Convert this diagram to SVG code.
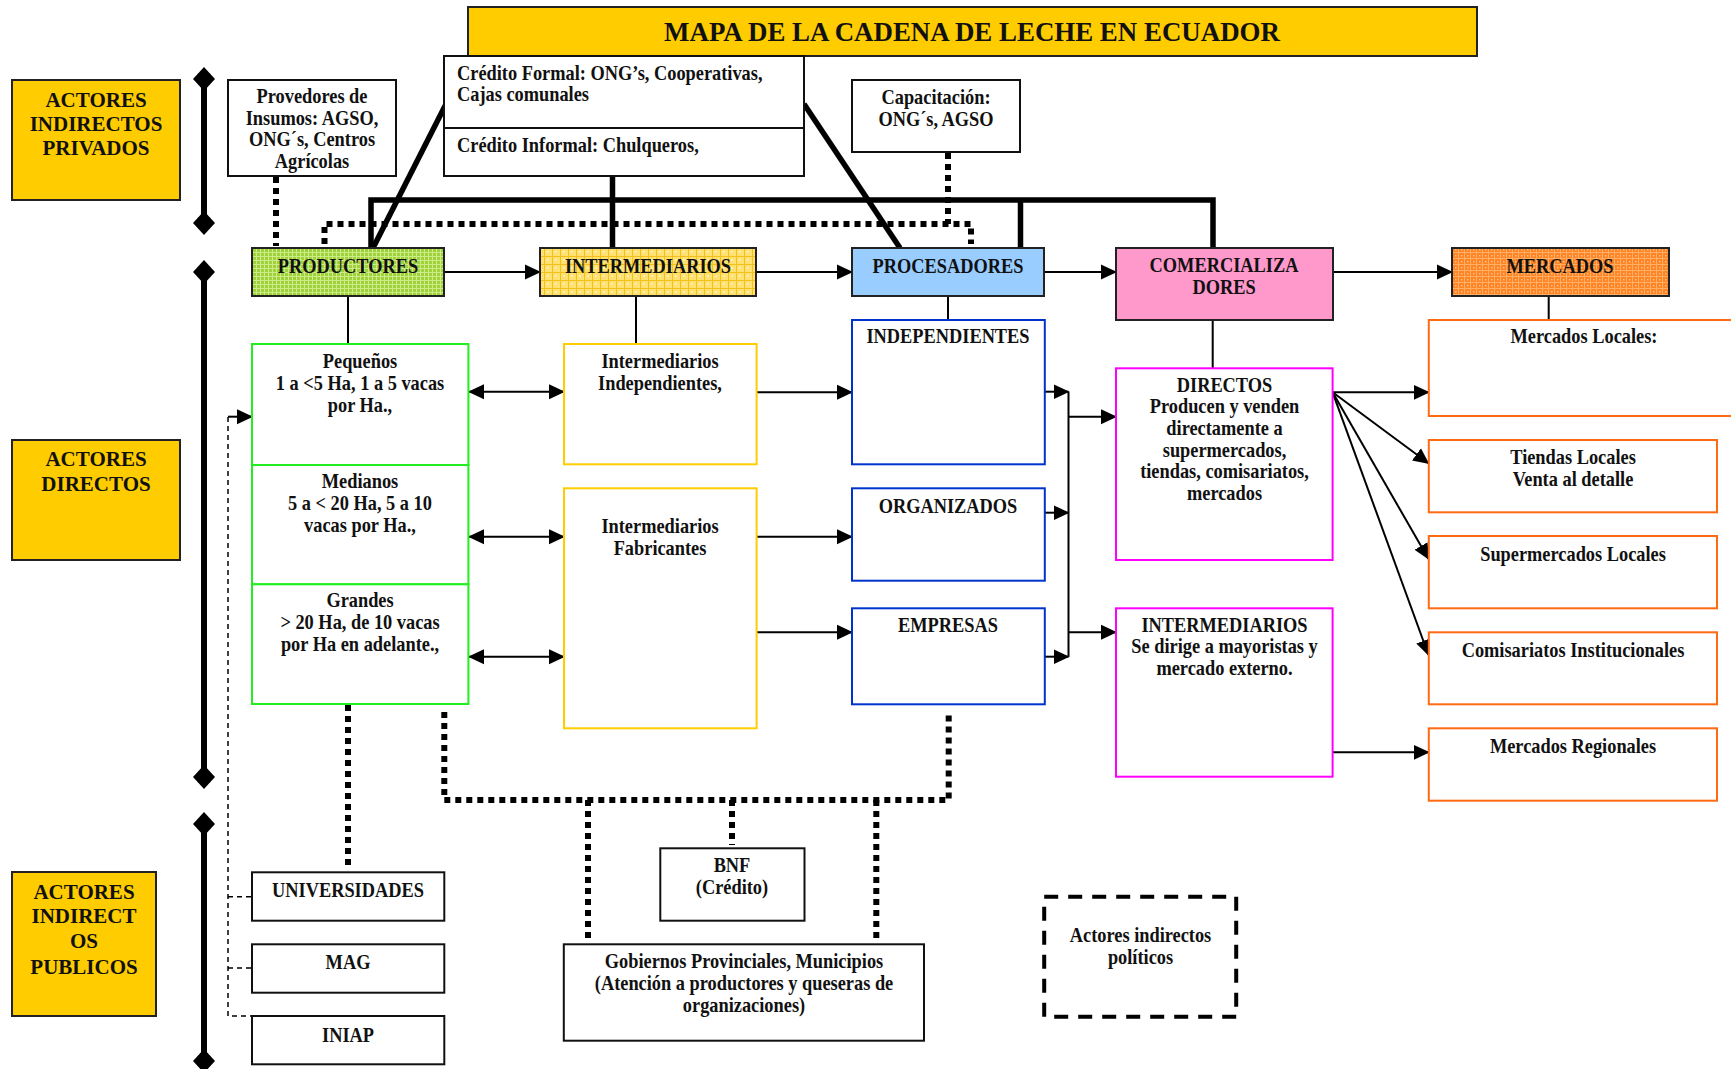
<svg xmlns="http://www.w3.org/2000/svg" width="1731" height="1069" viewBox="0 0 1731 1069">
<defs>
<style>
text{font-family:"Liberation Serif","Times New Roman",serif;font-weight:bold;font-size:20.4px;fill:#111;transform-box:fill-box;transform-origin:center;transform:scaleX(0.9);}
.c{text-anchor:middle;}
.l{transform-origin:left center;}
.big{font-size:22px;transform:scaleX(0.955);}
.title{font-size:26.9px;transform:none;}
.box{fill:#fff;stroke:#111;stroke-width:2;}
.act{fill:#ffcc00;stroke:#222;stroke-width:2;}
.green{fill:#fff;stroke:#22ee22;stroke-width:2;}
.yel{fill:#fff;stroke:#ffcc00;stroke-width:2;}
.blue{fill:#fff;stroke:#0033cc;stroke-width:2;}
.mag{fill:#fff;stroke:#ff00ff;stroke-width:2;}
.ora{fill:#fff;stroke:#ff6a13;stroke-width:2;}
.thick{fill:none;stroke:#000;stroke-width:5.5;}
.dot{fill:none;stroke:#000;stroke-width:6;stroke-dasharray:6 5;}
.thin{fill:none;stroke:#000;stroke-width:2;}
.arr{fill:none;stroke:#000;stroke-width:2;marker-end:url(#ah);}
.darr{fill:none;stroke:#000;stroke-width:2;marker-end:url(#ah);marker-start:url(#ah);}
.dash{fill:none;stroke:#000;stroke-width:1.5;stroke-dasharray:5 4;}
.bar{fill:none;stroke:#000;stroke-width:6;}
</style>
<marker id="ah" markerUnits="userSpaceOnUse" markerWidth="16" markerHeight="16" refX="15" refY="7.5" orient="auto-start-reverse" viewBox="0 0 16 15">
<path d="M0,0 L16,7.5 L0,15 z" fill="#000"/>
</marker>
<pattern id="pgreen" width="4" height="4" patternUnits="userSpaceOnUse">
<rect width="4" height="4" fill="#9fd13a"/>
<path d="M0,0.5 H4 M0.5,0 V4" stroke="#cdeb88" stroke-width="1"/>
</pattern>
<pattern id="pyel" width="8" height="8" patternUnits="userSpaceOnUse">
<rect width="8" height="8" fill="#ffe070"/>
<path d="M0,0.5 H8 M0.5,0 V8" stroke="#f2c21a" stroke-width="1"/>
<rect x="3" y="3" width="2" height="2" fill="#fff0b0"/>
</pattern>
<pattern id="pora" width="6" height="6" patternUnits="userSpaceOnUse">
<rect width="6" height="6" fill="#ff8424"/>
<path d="M0,0.5 H6 M0.5,0 V6" stroke="#ffb068" stroke-width="1"/>
<rect x="3" y="3" width="1.5" height="1.5" fill="#ffc08a"/>
</pattern>
</defs>

<g id="title">
<rect x="468" y="7" width="1009" height="49" class="act"/>
<text x="972" y="41" class="c title">MAPA DE LA CADENA DE LECHE EN ECUADOR</text>
</g>

<g id="actores-privados">
<rect x="12" y="80" width="168" height="120" class="act"/>
<text x="96" y="107" class="c big">ACTORES</text>
<text x="96" y="131" class="c big">INDIRECTOS</text>
<text x="96" y="155.5" class="c big">PRIVADOS</text>
</g>
<g id="actores-directos">
<rect x="12" y="440" width="168" height="120" class="act"/>
<text x="96" y="466.5" class="c big">ACTORES</text>
<text x="96" y="491.5" class="c big">DIRECTOS</text>
</g>
<g id="actores-publicos">
<rect x="12" y="872" width="144" height="144" class="act"/>
<text x="84" y="899" class="c big">ACTORES</text>
<text x="84" y="923.5" class="c big">INDIRECT</text>
<text x="84" y="948" class="c big">OS</text>
<text x="84" y="974" class="c big">PUBLICOS</text>
</g>

<g id="bars">
<line x1="204" y1="80" x2="204" y2="223" class="bar"/>
<polygon points="204,67 215,79 204,91 193,79"/>
<polygon points="204,211 215,223 204,235 193,223"/>
<line x1="204" y1="272" x2="204" y2="777" class="bar"/>
<polygon points="204,260 215,272 204,284 193,272"/>
<polygon points="204,765 215,777 204,789 193,777"/>
<line x1="204" y1="824" x2="204" y2="1061" class="bar"/>
<polygon points="204,812 215,824 204,836 193,824"/>
<polygon points="204,1049 215,1061 204,1073 193,1061"/>
</g>

<g id="connectors">
<path d="M371,248 V200 H1213 V248" class="thick"/>
<path d="M612.5,176 V248" class="thick"/>
<path d="M1020.5,200 V248" class="thick"/>
<path d="M446,104 L373,248" class="thick"/>
<path d="M804,104 L900,248" class="thick"/>

<path d="M276,177 V246" class="dot"/>
<path d="M324.5,244 V224 H971 V244" class="dot"/>
<path d="M948,153 V224" class="dot"/>
<path d="M348,705 V868" class="dot"/>
<path d="M444.3,712 V800 H948.7 V711" class="dot"/>
<path d="M588,800 V940" class="dot"/>
<path d="M732,800 V845" class="dot"/>
<path d="M876.3,800 V940" class="dot"/>

<path d="M348,296 V344 M636,296 V344 M948,296 V320 M1212.7,320 V368.3 M1548.7,296 V320" class="thin"/>

<path d="M444,272 H540" class="arr"/>
<path d="M756,272 H852" class="arr"/>
<path d="M1044,272 H1116" class="arr"/>
<path d="M1333,272 H1452" class="arr"/>

<path d="M469,391.7 H564" class="darr"/>
<path d="M469,536.7 H564" class="darr"/>
<path d="M469,656.7 H564" class="darr"/>

<path d="M756.6,392.3 H852" class="arr"/>
<path d="M756.6,536.7 H852" class="arr"/>
<path d="M756.6,632.3 H852" class="arr"/>

<path d="M1044.8,391.7 H1068.5" class="arr"/>
<path d="M1044.8,512.7 H1068.5" class="arr"/>
<path d="M1044.8,656.7 H1068.5" class="arr"/>
<path d="M1068.5,391.7 V656.7" class="thin"/>
<path d="M1068.5,416.7 H1116" class="arr"/>
<path d="M1068.5,632.3 H1116" class="arr"/>

<path d="M1332.6,392.3 H1428.8" class="arr"/>
<path d="M1332.6,392.3 L1428.5,463.3" class="arr"/>
<path d="M1332.6,392.3 L1428.5,559" class="arr"/>
<path d="M1332.6,392.3 L1428.5,655" class="arr"/>
<path d="M1332.6,752.3 H1428.8" class="arr"/>

<path d="M228,417 V1016 H252" class="dash"/>
<path d="M228,896.7 H252 M228,968 H252" class="dash"/>
<path d="M228,416.7 H252" class="arr"/>
</g>

<g id="provedores">
<rect x="228" y="80" width="168" height="96" class="box"/>
<text x="312" y="103.5" class="c">Provedores de</text>
<text x="312" y="125.5" class="c">Insumos: AGSO,</text>
<text x="312" y="146.5" class="c">ONG´s, Centros</text>
<text x="312" y="168" class="c">Agrícolas</text>
</g>
<g id="credito">
<rect x="444" y="56" width="360" height="120" class="box"/>
<line x1="444" y1="128" x2="804" y2="128" stroke="#111" stroke-width="2"/>
<text x="457" y="80" class="l">Crédito Formal: ONG’s, Cooperativas,</text>
<text x="457" y="101.5" class="l">Cajas comunales</text>
<text x="457" y="152.5" class="l">Crédito Informal: Chulqueros,</text>
</g>
<g id="capacitacion">
<rect x="852" y="80" width="168" height="72" class="box"/>
<text x="936" y="104" class="c">Capacitación:</text>
<text x="936" y="126" class="c">ONG´s, AGSO</text>
</g>

<g id="productores">
<rect x="252" y="248" width="192" height="48" fill="url(#pgreen)" stroke="#222" stroke-width="2"/>
<text x="348" y="273" class="c">PRODUCTORES</text>
</g>
<g id="intermediarios">
<rect x="540" y="248" width="216" height="48" fill="url(#pyel)" stroke="#222" stroke-width="2"/>
<text x="648" y="273" class="c">INTERMEDIARIOS</text>
</g>
<g id="procesadores">
<rect x="852" y="248" width="192" height="48" fill="#99ccff" stroke="#222" stroke-width="2"/>
<text x="948" y="273" class="c">PROCESADORES</text>
</g>
<g id="comercializadores">
<rect x="1116" y="248" width="217" height="72" fill="#ff99cc" stroke="#222" stroke-width="2"/>
<text x="1224" y="272.5" class="c">COMERCIALIZA</text>
<text x="1224" y="294" class="c">DORES</text>
</g>
<g id="mercados">
<rect x="1452" y="248" width="217" height="48" fill="url(#pora)" stroke="#222" stroke-width="2"/>
<text x="1560" y="273" class="c">MERCADOS</text>
</g>

<g id="pequenos">
<rect x="252" y="344" width="216.4" height="121" class="green"/>
<text x="360" y="368.3" class="c">Pequeños</text>
<text x="360" y="390" class="c">1 a &lt;5 Ha, 1 a 5 vacas</text>
<text x="360" y="411.7" class="c">por Ha.,</text>
</g>
<g id="medianos">
<rect x="252" y="465" width="216.4" height="119.3" class="green"/>
<text x="360" y="488.3" class="c">Medianos</text>
<text x="360" y="510" class="c">5 a &lt; 20 Ha, 5 a 10</text>
<text x="360" y="531.7" class="c">vacas por Ha.,</text>
</g>
<g id="grandes">
<rect x="252" y="584.3" width="216.4" height="119.7" class="green" stroke-width="1.5"/>
<text x="360" y="607.3" class="c">Grandes</text>
<text x="360" y="629" class="c">&gt; 20 Ha, de 10 vacas</text>
<text x="360" y="650.7" class="c">por Ha en adelante.,</text>
</g>

<g id="int-independientes">
<rect x="564" y="344" width="192.6" height="120.3" class="yel"/>
<text x="660" y="368.3" class="c">Intermediarios</text>
<text x="660" y="390" class="c">Independientes,</text>
</g>
<g id="int-fabricantes">
<rect x="564" y="488.3" width="192.6" height="240" class="yel"/>
<text x="660" y="533.3" class="c">Intermediarios</text>
<text x="660" y="555" class="c">Fabricantes</text>
</g>

<g id="independientes">
<rect x="852" y="320" width="192.8" height="144.3" class="blue"/>
<text x="948" y="343.3" class="c">INDEPENDIENTES</text>
</g>
<g id="organizados">
<rect x="852" y="488.3" width="192.8" height="92.4" class="blue"/>
<text x="948" y="512.7" class="c">ORGANIZADOS</text>
</g>
<g id="empresas">
<rect x="852" y="608.3" width="192.8" height="96" class="blue"/>
<text x="948" y="632.3" class="c">EMPRESAS</text>
</g>

<g id="directos">
<rect x="1116" y="368.3" width="216.6" height="191.7" class="mag"/>
<text x="1224.5" y="391.7" class="c">DIRECTOS</text>
<text x="1224.5" y="413.3" class="c">Producen y venden</text>
<text x="1224.5" y="435" class="c">directamente a</text>
<text x="1224.5" y="456.7" class="c">supermercados,</text>
<text x="1224.5" y="478.3" class="c">tiendas, comisariatos,</text>
<text x="1224.5" y="500" class="c">mercados</text>
</g>
<g id="com-intermediarios">
<rect x="1116" y="608.3" width="216.6" height="168.4" class="mag"/>
<text x="1224.5" y="631.7" class="c">INTERMEDIARIOS</text>
<text x="1224.5" y="653.3" class="c">Se dirige a mayoristas y</text>
<text x="1224.5" y="675" class="c">mercado externo.</text>
</g>

<g id="mercados-locales">
<rect x="1428.8" y="320" width="312" height="96" class="ora"/>
<text x="1584" y="343.3" class="c">Mercados Locales:</text>
</g>
<g id="tiendas">
<rect x="1428.8" y="440" width="288.2" height="72.3" class="ora"/>
<text x="1573" y="464" class="c">Tiendas Locales</text>
<text x="1573" y="486" class="c">Venta al detalle</text>
</g>
<g id="supermercados">
<rect x="1428.8" y="536" width="288.2" height="72.3" class="ora"/>
<text x="1573" y="560.7" class="c">Supermercados Locales</text>
</g>
<g id="comisariatos">
<rect x="1428.8" y="632.3" width="288.2" height="72" class="ora"/>
<text x="1573" y="656.7" class="c">Comisariatos Institucionales</text>
</g>
<g id="regionales">
<rect x="1428.8" y="728.3" width="288.2" height="72.4" class="ora"/>
<text x="1573" y="752.7" class="c">Mercados Regionales</text>
</g>

<g id="universidades">
<rect x="252" y="872.3" width="192.3" height="48.4" class="box"/>
<text x="348" y="896.7" class="c">UNIVERSIDADES</text>
</g>
<g id="mag">
<rect x="252" y="944.3" width="192.3" height="48.4" class="box"/>
<text x="348" y="969.3" class="c">MAG</text>
</g>
<g id="iniap">
<rect x="252" y="1016" width="192.3" height="48.3" class="box"/>
<text x="348" y="1041.7" class="c">INIAP</text>
</g>
<g id="bnf">
<rect x="660.3" y="848.3" width="144.2" height="72.4" class="box"/>
<text x="732" y="871.7" class="c">BNF</text>
<text x="732" y="894" class="c">(Crédito)</text>
</g>
<g id="gobiernos">
<rect x="563.8" y="944.3" width="360.2" height="96.4" class="box"/>
<text x="744" y="968.3" class="c">Gobiernos Provinciales, Municipios</text>
<text x="744" y="990" class="c">(Atención a productores y queseras de</text>
<text x="744" y="1011.7" class="c">organizaciones)</text>
</g>
<g id="politicos">
<rect x="1044.2" y="896.7" width="192" height="120" fill="none" stroke="#000" stroke-width="4" stroke-dasharray="14 10"/>
<text x="1140.5" y="942.3" class="c">Actores indirectos</text>
<text x="1140.5" y="964" class="c">políticos</text>
</g>
</svg>
